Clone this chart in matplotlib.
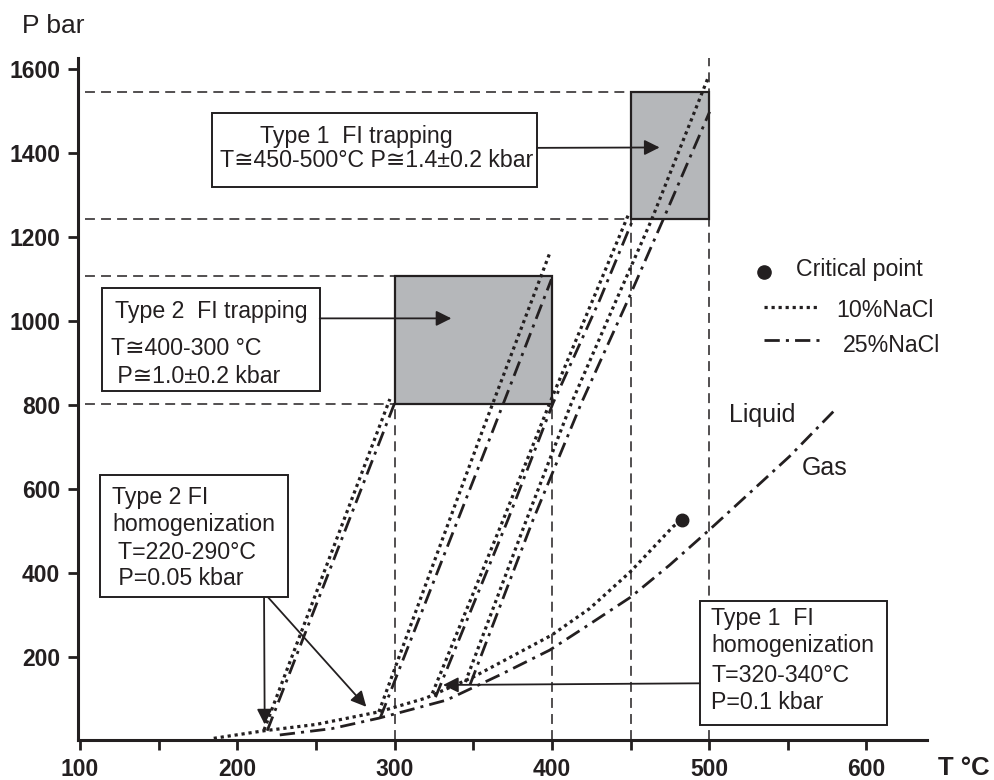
import matplotlib
matplotlib.use('Agg')
import matplotlib.pyplot as plt
from matplotlib.patches import Rectangle

plt.rcParams['font.family'] = ['Liberation Sans', 'DejaVu Sans']

# ---------------- data ----------------
# Liquid-vapour curves
lv10_T = [185, 217, 250, 290, 320, 350, 400, 424, 450, 477, 482.5]
lv10_P = [7, 25, 40, 70, 103, 153, 253, 316, 404, 511, 527]
lv25_T = [227, 260, 290, 333, 367, 398.6, 420, 450, 475, 500, 551, 581]
lv25_P = [15, 30, 55, 98, 158, 217, 269, 343, 420, 503, 678, 793]

# critical point (10% NaCl)
crit_T = [482.5]
crit_P = [527]

# isochores, 10% NaCl (dotted)
iso10_A_T = [217, 297];                          iso10_A_P = [27, 815]
iso10_B_T = [290, 311.5, 356, 398.6];            iso10_B_P = [70, 289, 741, 1162]
iso10_C_T = [324, 369, 398.6, 426, 449];         iso10_C_P = [114, 527, 805, 1051, 1257]
iso10_D_T = [345, 383.8, 412.4, 441, 463.3, 499.5]; iso10_D_P = [141, 527, 805, 1051, 1241, 1582]

# isochores, 25% NaCl (dash-dot)
iso25_A_T = [219, 300];                          iso25_A_P = [25, 805]
iso25_B_T = [291, 362.6, 399.7];                 iso25_B_P = [57, 741, 1100]
iso25_C_T = [326, 372, 400.7, 430.4, 451.6];     iso25_C_P = [105, 527, 805, 1051, 1243]
iso25_D_T = [348, 388, 418.7, 448.4, 470.6, 500.3]; iso25_D_P = [135, 527, 805, 1051, 1241, 1499]

# trapping fields (T range, P range)
trap1_T = [450, 500]; trap1_P = [1243, 1545]
trap2_T = [300, 400]; trap2_P = [803, 1107]

x_ticks = [100, 200, 300, 400, 500, 600]
x_minor = [150, 250, 350, 450, 550]
y_ticks = [200, 400, 600, 800, 1000, 1200, 1400, 1600]

INK = '#231f20'
GREY = '#b5b7ba'
TXT = 16.7

fig = plt.figure(figsize=(9.94, 7.8), dpi=100)
ax = fig.add_axes([78.3/994, 40/780, (926.7-78.3)/994, (740-58)/780])
ax.set_xlim(98.9, 638.3)
ax.set_ylim(3, 1627)

for s in ['top', 'right']:
    ax.spines[s].set_visible(False)
for s in ['left', 'bottom']:
    ax.spines[s].set_linewidth(2.2)
    ax.spines[s].set_color(INK)

ax.set_xticks(x_ticks)
ax.set_xticks(x_minor, minor=True)
ax.set_yticks(y_ticks)
ax.set_xticklabels([str(v) for v in x_ticks], fontweight='bold', fontsize=16.5)
ax.set_yticklabels([str(v) for v in y_ticks], fontweight='bold', fontsize=16.5)
ax.tick_params(axis='both', which='both', direction='out', length=7.5, width=2.0,
               color=INK, labelcolor=INK, pad=5.5)

# ---------------- dashed guide lines ----------------
gkw = dict(color=INK, lw=1.1, linestyle=(0, (6.5, 4)), zorder=1)
ax.plot([103, trap1_T[0]], [trap1_P[1], trap1_P[1]], **gkw)
ax.plot([103, trap1_T[0]], [trap1_P[0], trap1_P[0]], **gkw)
ax.plot([103, trap2_T[0]], [trap2_P[1], trap2_P[1]], **gkw)
ax.plot([103, trap2_T[0]], [trap2_P[0], trap2_P[0]], **gkw)
ax.plot([trap2_T[0]] * 2, [3, trap2_P[0]], **gkw)
ax.plot([trap2_T[1]] * 2, [3, trap2_P[0]], **gkw)
ax.plot([trap1_T[0]] * 2, [3, trap1_P[0]], **gkw)
ax.plot([trap1_T[1]] * 2, [3, 1627], **gkw)

# ---------------- grey trapping boxes ----------------
for tt, pp in [(trap1_T, trap1_P), (trap2_T, trap2_P)]:
    ax.add_patch(Rectangle((tt[0], pp[0]), tt[1] - tt[0], pp[1] - pp[0],
                           facecolor=GREY, edgecolor=INK, lw=1.6, zorder=2))

# ---------------- curves ----------------
dot_kw = dict(color=INK, lw=2.3, linestyle=(0, (1, 1.2)), zorder=3)
dd_kw = dict(color=INK, lw=2.0, linestyle=(0, (5.5, 2.2, 1.1, 2.2)), zorder=3)

ax.plot(lv10_T, lv10_P, **dot_kw)
ax.plot(lv25_T, lv25_P, **dd_kw)
for T, P in [(iso10_A_T, iso10_A_P), (iso10_B_T, iso10_B_P),
             (iso10_C_T, iso10_C_P), (iso10_D_T, iso10_D_P)]:
    ax.plot(T, P, **dot_kw)
for T, P in [(iso25_A_T, iso25_A_P), (iso25_B_T, iso25_B_P),
             (iso25_C_T, iso25_C_P), (iso25_D_T, iso25_D_P)]:
    ax.plot(T, P, **dd_kw)
ax.plot(crit_T, crit_P, 'o', color=INK, ms=9, zorder=4)

# ---------------- annotation boxes ----------------
def box(t0, t1, p0, p1):
    ax.add_patch(Rectangle((t0, p0), t1 - t0, p1 - p0, facecolor='white',
                           edgecolor=INK, lw=1.4, zorder=5))

def txt(t, p, s, size=TXT, **kw):
    ax.text(t, p, s, fontsize=size, color=INK, va='baseline', ha='left', zorder=6, **kw)

def arrow(tail, head):
    ax.annotate('', xy=head, xytext=tail, zorder=6,
                arrowprops=dict(arrowstyle='-|>', color=INK, lw=1.3,
                                mutation_scale=23, shrinkA=0, shrinkB=0))

# Type 1 trapping
box(184.2, 390.8, 1319, 1495)
txt(214.3, 1424, 'Type 1  FI trapping')
txt(188.8, 1368, 'T\u2245450-500°C P\u22451.4±0.2 kbar')
arrow((390.8, 1413), (468.5, 1414))

# Type 2 trapping
box(114.2, 252.4, 834, 1078.6)
txt(122.0, 1007, 'Type 2  FI trapping')
txt(119.6, 920, 'T\u2245400-300 °C')
txt(119.6, 852, ' P\u22451.0±0.2 kbar')
arrow((252.4, 1007), (336.1, 1007))

# Type 2 homogenization
box(113.0, 232.2, 343, 634)
txt(120.6, 565, 'Type 2 FI')
txt(120.6, 501, 'homogenization')
txt(120.6, 433, ' T=220-290°C')
txt(120.6, 372, ' P=0.05 kbar')
arrow((217.0, 343), (217.4, 40))
arrow((219.5, 343), (282.0, 82))

# Type 1 homogenization
box(494.0, 613.0, 38.8, 334.8)
txt(501.4, 277, 'Type 1  FI')
txt(501.4, 213, 'homogenization')
txt(501.4, 142, 'T=320-340°C')
txt(501.4, 76, 'P=0.1 kbar')
arrow((494.0, 138), (330.8, 134))

# phase labels
txt(512.9, 761, 'Liquid', size=18)
txt(558.7, 634, 'Gas', size=18)

# legend (drawn in place)
ax.plot([535.1], [1118], 'o', color=INK, ms=9.5, zorder=4)
txt(555.4, 1108, 'Critical point')
ax.plot([535.1, 570.3], [1035, 1035], **dot_kw)
txt(580.9, 1011, '10%NaCl')
ax.plot([535.1, 570.3], [955.5, 955.5], **dd_kw)
txt(585.1, 927.6, '25%NaCl')

# axis titles
fig.text(21.7/994, 1 - 32.7/780, 'P bar', fontsize=19, color=INK, va='baseline', ha='left')
fig.text(938/994, 5/780, 'T °C', fontsize=18.5, fontweight='bold', color=INK,
         va='baseline', ha='left')

fig.savefig('out.png', dpi=100)
